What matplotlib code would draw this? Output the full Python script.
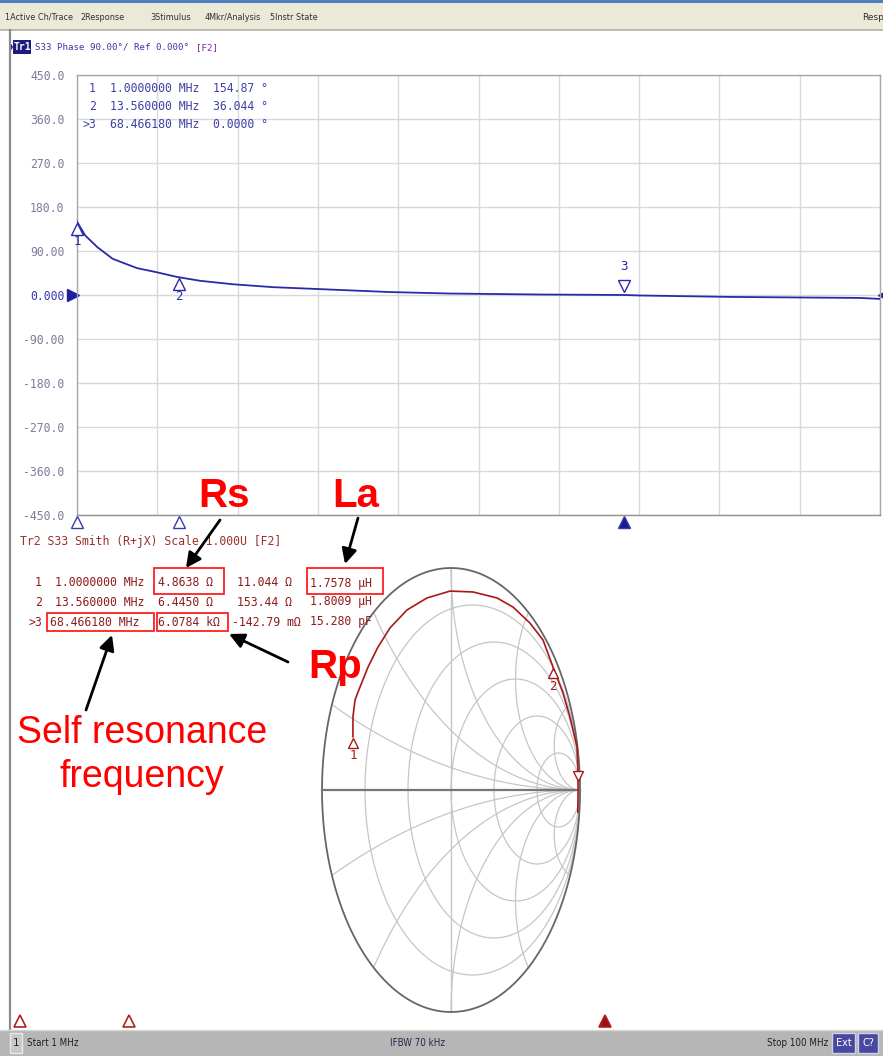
import numpy as np
import matplotlib
matplotlib.use("Agg")
import matplotlib.pyplot as plt
from matplotlib.patches import Rectangle
from matplotlib.transforms import offset_copy

W, H = 883, 1057

# ---------------- data ----------------
# Trace 1: S33 phase vs frequency
freq_mhz = [1.0, 2.0, 3.5, 5.4, 8.4, 10.7, 13.3, 16.2, 20.2, 25.2, 31.0, 39.6,
            47.0, 58.0, 68.5, 70.4, 82.0, 97.5, 100.0]
phase_deg = [150, 122, 98, 74, 55, 47, 37, 29, 22, 16, 12, 6,
             3, 1, 0, -1, -4, -6, -8]

# Trace 2: S33 on Smith chart (reflection coefficient)
gamma_re = [-0.760, -0.760, -0.744, -0.721, -0.643, -0.566, -0.473, -0.341, -0.186,
            -0.008, 0.171, 0.357, 0.481, 0.612, 0.713, 0.791, 0.868, 0.922,
            0.977, 0.984, 0.985, 0.983]
gamma_im = [0.240, 0.330, 0.405, 0.441, 0.554, 0.644, 0.730, 0.811, 0.865,
            0.896, 0.892, 0.865, 0.824, 0.752, 0.676, 0.554, 0.437, 0.329,
            0.194, 0.077, 0.000, -0.100]

# Markers
mk_labels = ["1", "2", ">3"]
mk_freq = [1.0, 13.56, 68.46618]
mk_freq_txt = ["1.0000000 MHz", "13.560000 MHz", "68.466180 MHz"]
mk_phase = [150, 37, 0.0]
mk_phase_txt = ["154.87 °", "36.044 °", "0.0000 °"]
mk_gre = [-0.760, 0.790, 0.985]
mk_gim = [0.240, 0.554, 0.000]
mk_R_txt = ["4.8638 Ω", "6.4450 Ω", "6.0784 kΩ"]
mk_X_txt = ["11.044 Ω", "153.44 Ω", "-142.79 mΩ"]
mk_L_txt = ["1.7578 µH", "1.8009 µH", "15.280 pF"]

ytick_vals = [450, 360, 270, 180, 90, 0, -90, -180, -270, -360, -450]
ytick_txt = ["450.0", "360.0", "270.0", "180.0", "90.00", "0.000", "-90.00",
             "-180.0", "-270.0", "-360.0", "-450.0"]

smith_r = [0.2, 0.5, 1.0, 2.0, 5.0]
smith_x = [0.2, 0.5, 1.0, 2.0, 5.0]

menu_items = ["1Active Ch/Trace", "2Response", "3Stimulus", "4Mkr/Analysis", "5Instr State"]

# ---------------- figure ----------------
fig = plt.figure(figsize=(W / 100, H / 100), dpi=100)
fig.patch.set_facecolor("white")


def rect(x0, y0, x1, y1):
    return [x0 / W, 1 - y1 / H, (x1 - x0) / W, (y1 - y0) / H]


BLUE = "#2a2aa8"
TXTBLUE = "#4040a8"
DRED = "#8e1c1c"
TRACE_RED = "#a81818"
MONO = "DejaVu Sans Mono"

# ---- top phase plot ----
ax1 = fig.add_axes(rect(77, 75, 880, 515))
ax1.set_xlim(1, 100)
ax1.set_ylim(-450, 450)
ax1.set_xticks(np.linspace(1, 100, 11))
ax1.set_xticklabels([])
ax1.set_yticks(ytick_vals)
ax1.set_yticklabels(ytick_txt, fontsize=8.3, family=MONO, color="#7c7c9c")
for lab in ax1.get_yticklabels():
    if lab.get_text() == "0.000":
        lab.set_color("#3838b0")
ax1.tick_params(length=0, pad=9)
ax1.grid(True, color="#d9d9d9", lw=1.0)
ax1.set_axisbelow(True)
for s in ax1.spines.values():
    s.set_color("#a8a8a8")
    s.set_linewidth(1.0)
ax1.spines["bottom"].set_color("#909090")
ax1.plot(freq_mhz, phase_deg, color=BLUE, lw=1.3, zorder=3)

# reference level pointers
ax1.plot([1], [0], marker=">", ms=8, color="#2020a0", clip_on=False,
         transform=offset_copy(ax1.transData, fig, x=-4, y=0, units="dots"))
ax1.plot([100], [0], marker="<", ms=6, color="#2020a0", clip_on=False,
         transform=offset_copy(ax1.transData, fig, x=2, y=0, units="dots"))

# trace markers
for i in range(3):
    if i < 2:
        tri_t = offset_copy(ax1.transData, fig, x=0, y=-7, units="dots")
        ax1.plot([mk_freq[i]], [mk_phase[i]], marker="^", ms=8, mfc="white",
                 mec=BLUE, mew=1.0, transform=tri_t, clip_on=False, zorder=4)
        ax1.text(mk_freq[i], mk_phase[i], str(i + 1), color=BLUE, fontsize=9,
                 family=MONO, ha="center", va="center", clip_on=False,
                 transform=offset_copy(ax1.transData, fig, x=0, y=-20, units="dots"))
    else:
        tri_t = offset_copy(ax1.transData, fig, x=0, y=9, units="dots")
        ax1.plot([mk_freq[i]], [mk_phase[i]], marker="v", ms=8, mfc="white",
                 mec=BLUE, mew=1.0, transform=tri_t, clip_on=False, zorder=4)
        ax1.text(mk_freq[i], mk_phase[i], "3", color=BLUE, fontsize=9,
                 family=MONO, ha="center", va="center", clip_on=False,
                 transform=offset_copy(ax1.transData, fig, x=0, y=29, units="dots"))

# marker stimulus pointers under the top plot
xt1 = offset_copy(ax1.get_xaxis_transform(), fig, x=0, y=-7, units="dots")
for i in range(3):
    ax1.plot([mk_freq[i]], [0], marker="^", ms=8,
             mfc=("#1c1c90" if i == 2 else "white"), mec="#3a3ab0", mew=1.0,
             transform=xt1, clip_on=False)

# marker readout in top plot
for i in range(3):
    yy = [88, 106, 124][i]
    fig.text(96 / W, 1 - yy / H, mk_labels[i], fontsize=8.3, family=MONO,
             color=TXTBLUE, ha="right", va="center")
    fig.text(110 / W, 1 - yy / H, mk_freq_txt[i], fontsize=8.3, family=MONO,
             color=TXTBLUE, ha="left", va="center")
    fig.text(213 / W, 1 - yy / H, mk_phase_txt[i], fontsize=8.3, family=MONO,
             color=TXTBLUE, ha="left", va="center")

# ---- Smith chart ----
ax2 = fig.add_axes(rect(322, 568, 580, 1012))
ax2.set_xlim(-1, 1)
ax2.set_ylim(-1, 1)
ax2.axis("off")
t = np.linspace(0, 2 * np.pi, 721)
GRID = "#c6c6c6"
for r in smith_r:
    c, rad = r / (1 + r), 1 / (1 + r)
    ax2.plot(c + rad * np.cos(t), rad * np.sin(t), color=GRID, lw=0.9, clip_on=False)
for xv in smith_x:
    for sgn in (1, -1):
        cy, rad = sgn / xv, 1 / xv
        u = 1 + rad * np.cos(t)
        v = cy + rad * np.sin(t)
        inside = u ** 2 + v ** 2 <= 1.0005
        u = np.where(inside, u, np.nan)
        v = np.where(inside, v, np.nan)
        ax2.plot(u, v, color=GRID, lw=0.9, clip_on=False)
ax2.plot([0, 0], [-1, 1], color=GRID, lw=1.0, clip_on=False)
ax2.plot(np.cos(t), np.sin(t), color="#666666", lw=1.3, clip_on=False)
ax2.plot([-1, 1], [0, 0], color="#777777", lw=1.6, clip_on=False)
ax2.plot(gamma_re, gamma_im, color=TRACE_RED, lw=1.2, clip_on=False, zorder=3)
for i in range(3):
    if i < 2:
        ax2.plot([mk_gre[i]], [mk_gim[i]], marker="^", ms=7, mfc="white", mec=TRACE_RED,
                 mew=1.0, clip_on=False, zorder=4,
                 transform=offset_copy(ax2.transData, fig, x=0, y=-6, units="dots"))
        ax2.text(mk_gre[i], mk_gim[i], str(i + 1), color=TRACE_RED, fontsize=9,
                 family=MONO, ha="center", va="center", clip_on=False,
                 transform=offset_copy(ax2.transData, fig, x=0, y=-19, units="dots"))
    else:
        ax2.plot([mk_gre[i]], [mk_gim[i]], marker="v", ms=7, mfc="white", mec=TRACE_RED,
                 mew=1.0, clip_on=False, zorder=4,
                 transform=offset_copy(ax2.transData, fig, x=0, y=14, units="dots"))

# marker stimulus pointers at bottom (trace 2 frequency axis)
ax3 = fig.add_axes(rect(20, 1012, 878, 1028))
ax3.set_xlim(1, 100)
ax3.set_ylim(0, 1)
ax3.axis("off")
for i in range(3):
    ax3.plot([mk_freq[i]], [0.45], marker="^", ms=9,
             mfc=("#9a1010" if i == 2 else "white"), mec="#b02020", mew=1.2,
             clip_on=False)

# Smith readout
for i in range(3):
    yy = [583, 602, 622][i]
    fig.text(42 / W, 1 - yy / H, mk_labels[i], fontsize=8.3, family=MONO,
             color=DRED, ha="right", va="center")
    fig.text(55 / W if i < 2 else 50 / W, 1 - yy / H, mk_freq_txt[i], fontsize=8.3,
             family=MONO, color=DRED, ha="left", va="center")
    fig.text(158 / W, 1 - yy / H, mk_R_txt[i], fontsize=8.3, family=MONO,
             color=DRED, ha="left", va="center")
    fig.text((237 if i < 2 else 232) / W, 1 - yy / H, mk_X_txt[i], fontsize=8.3,
             family=MONO, color=DRED, ha="left", va="center")
    fig.text(310 / W, 1 - yy / H, mk_L_txt[i], fontsize=8.3, family=MONO,
             color=DRED, ha="left", va="center")

# ---- overlay: window chrome & annotations ----
ax0 = fig.add_axes([0, 0, 1, 1], zorder=20)
ax0.set_xlim(0, W)
ax0.set_ylim(H, 0)
ax0.axis("off")
ax0.patch.set_alpha(0)

ax0.add_patch(Rectangle((0, 0), W, 3, color="#4f7fc0", lw=0))
ax0.add_patch(Rectangle((0, 3), W, 26, color="#ece9d8", lw=0))
ax0.plot([0, W], [29.5, 29.5], color="#b0aea0", lw=1.2)
menu_x = [5, 80, 150, 205, 270]
for mx, mt in zip(menu_x, menu_items):
    ax0.text(mx, 17, mt, fontsize=6.5, color="#303030", ha="left", va="center",
             fontstretch="condensed")
ax0.text(862, 17, "Resp", fontsize=6.5, color="#303030", ha="left", va="center")

# left frame line
ax0.plot([9.5, 9.5], [30, 1030], color="#8c8c8c", lw=1.6)

# Tr1 header
ax0.fill([9, 13, 9], [40, 47, 54], color="#1c1c7c", lw=0)
ax0.add_patch(Rectangle((13, 40), 18, 14, color="#1c1c7c", lw=0))
ax0.text(22, 47.5, "Tr1", fontsize=7, color="white", ha="center", va="center",
         family=MONO, weight="bold")
ax0.text(35, 47.5, "S33 Phase 90.00°/ Ref 0.000°", fontsize=6.6, family=MONO,
         color="#3838a8", ha="left", va="center")
ax0.text(196, 47.5, "[F2]", fontsize=6.6, family=MONO, color="#7a2a9a",
         ha="left", va="center")

# Tr2 header
ax0.text(20, 541, "Tr2 S33 Smith (R+jX) Scale 1.000U [F2]", fontsize=8.3,
         family=MONO, color="#9a3030", ha="left", va="center")

# red boxes
for (x0, y0, x1, y1) in [(154, 568, 224, 594), (307, 568, 383, 594),
                         (47, 613, 154, 631), (157, 613, 228, 631)]:
    ax0.add_patch(Rectangle((x0, y0), x1 - x0, y1 - y0, fill=False,
                            ec="#ff2020", lw=1.3))

# annotation labels
ANN = "#ff0000"
SANS = ["Liberation Sans", "DejaVu Sans"]
ax0.text(224, 507, "Rs", fontsize=29, weight="bold", color=ANN, family=SANS,
         ha="center", va="baseline")
ax0.text(356, 507, "La", fontsize=29, weight="bold", color=ANN, family=SANS,
         ha="center", va="baseline")
ax0.text(335, 678, "Rp", fontsize=29, weight="bold", color=ANN, family=SANS,
         ha="center", va="baseline")
ax0.text(142, 743, "Self resonance", fontsize=27, color=ANN, family=SANS,
         ha="center", va="baseline")
ax0.text(142, 787, "frequency", fontsize=27, color=ANN, family=SANS,
         ha="center", va="baseline")

arrow_kw = dict(arrowstyle="-|>,head_length=0.9,head_width=0.45", color="black",
                lw=2.0, shrinkA=0, shrinkB=0)
for (tx, ty, hx, hy) in [(220, 520, 186, 568), (358, 518, 345, 564),
                         (288, 662, 229, 634), (86, 710, 112, 635)]:
    ax0.annotate("", xy=(hx, hy), xytext=(tx, ty), arrowprops=arrow_kw)

# status bar
ax0.add_patch(Rectangle((0, 1030), W, 26, color="#b6b6b6", lw=0))
ax0.plot([0, W], [1030, 1030], color="#d8d8d8", lw=1)
ax0.add_patch(Rectangle((10, 1033), 12, 20, fc="#c8c8c8", ec="#e8e8e8", lw=1))
ax0.text(16, 1043, "1", fontsize=7.5, color="#202020", ha="center", va="center")
ax0.text(27, 1043, "Start 1 MHz", fontsize=7, color="#202020", ha="left",
         va="center", fontstretch="condensed")
ax0.text(417, 1043, "IFBW 70 kHz", fontsize=7, color="#302050", ha="center",
         va="center", fontstretch="condensed")
ax0.text(828, 1043, "Stop 100 MHz", fontsize=7, color="#202020", ha="right",
         va="center", fontstretch="condensed")
ax0.add_patch(Rectangle((832, 1033), 23, 20, fc="#4848a0", ec="#d0d0e8", lw=1))
ax0.text(843.5, 1043, "Ext", fontsize=7, color="white", ha="center", va="center")
ax0.add_patch(Rectangle((858, 1033), 20, 20, fc="#4848a0", ec="#d0d0e8", lw=1))
ax0.text(868, 1043, "C?", fontsize=7, color="white", ha="center", va="center")

fig.savefig("out.png", dpi=100)
